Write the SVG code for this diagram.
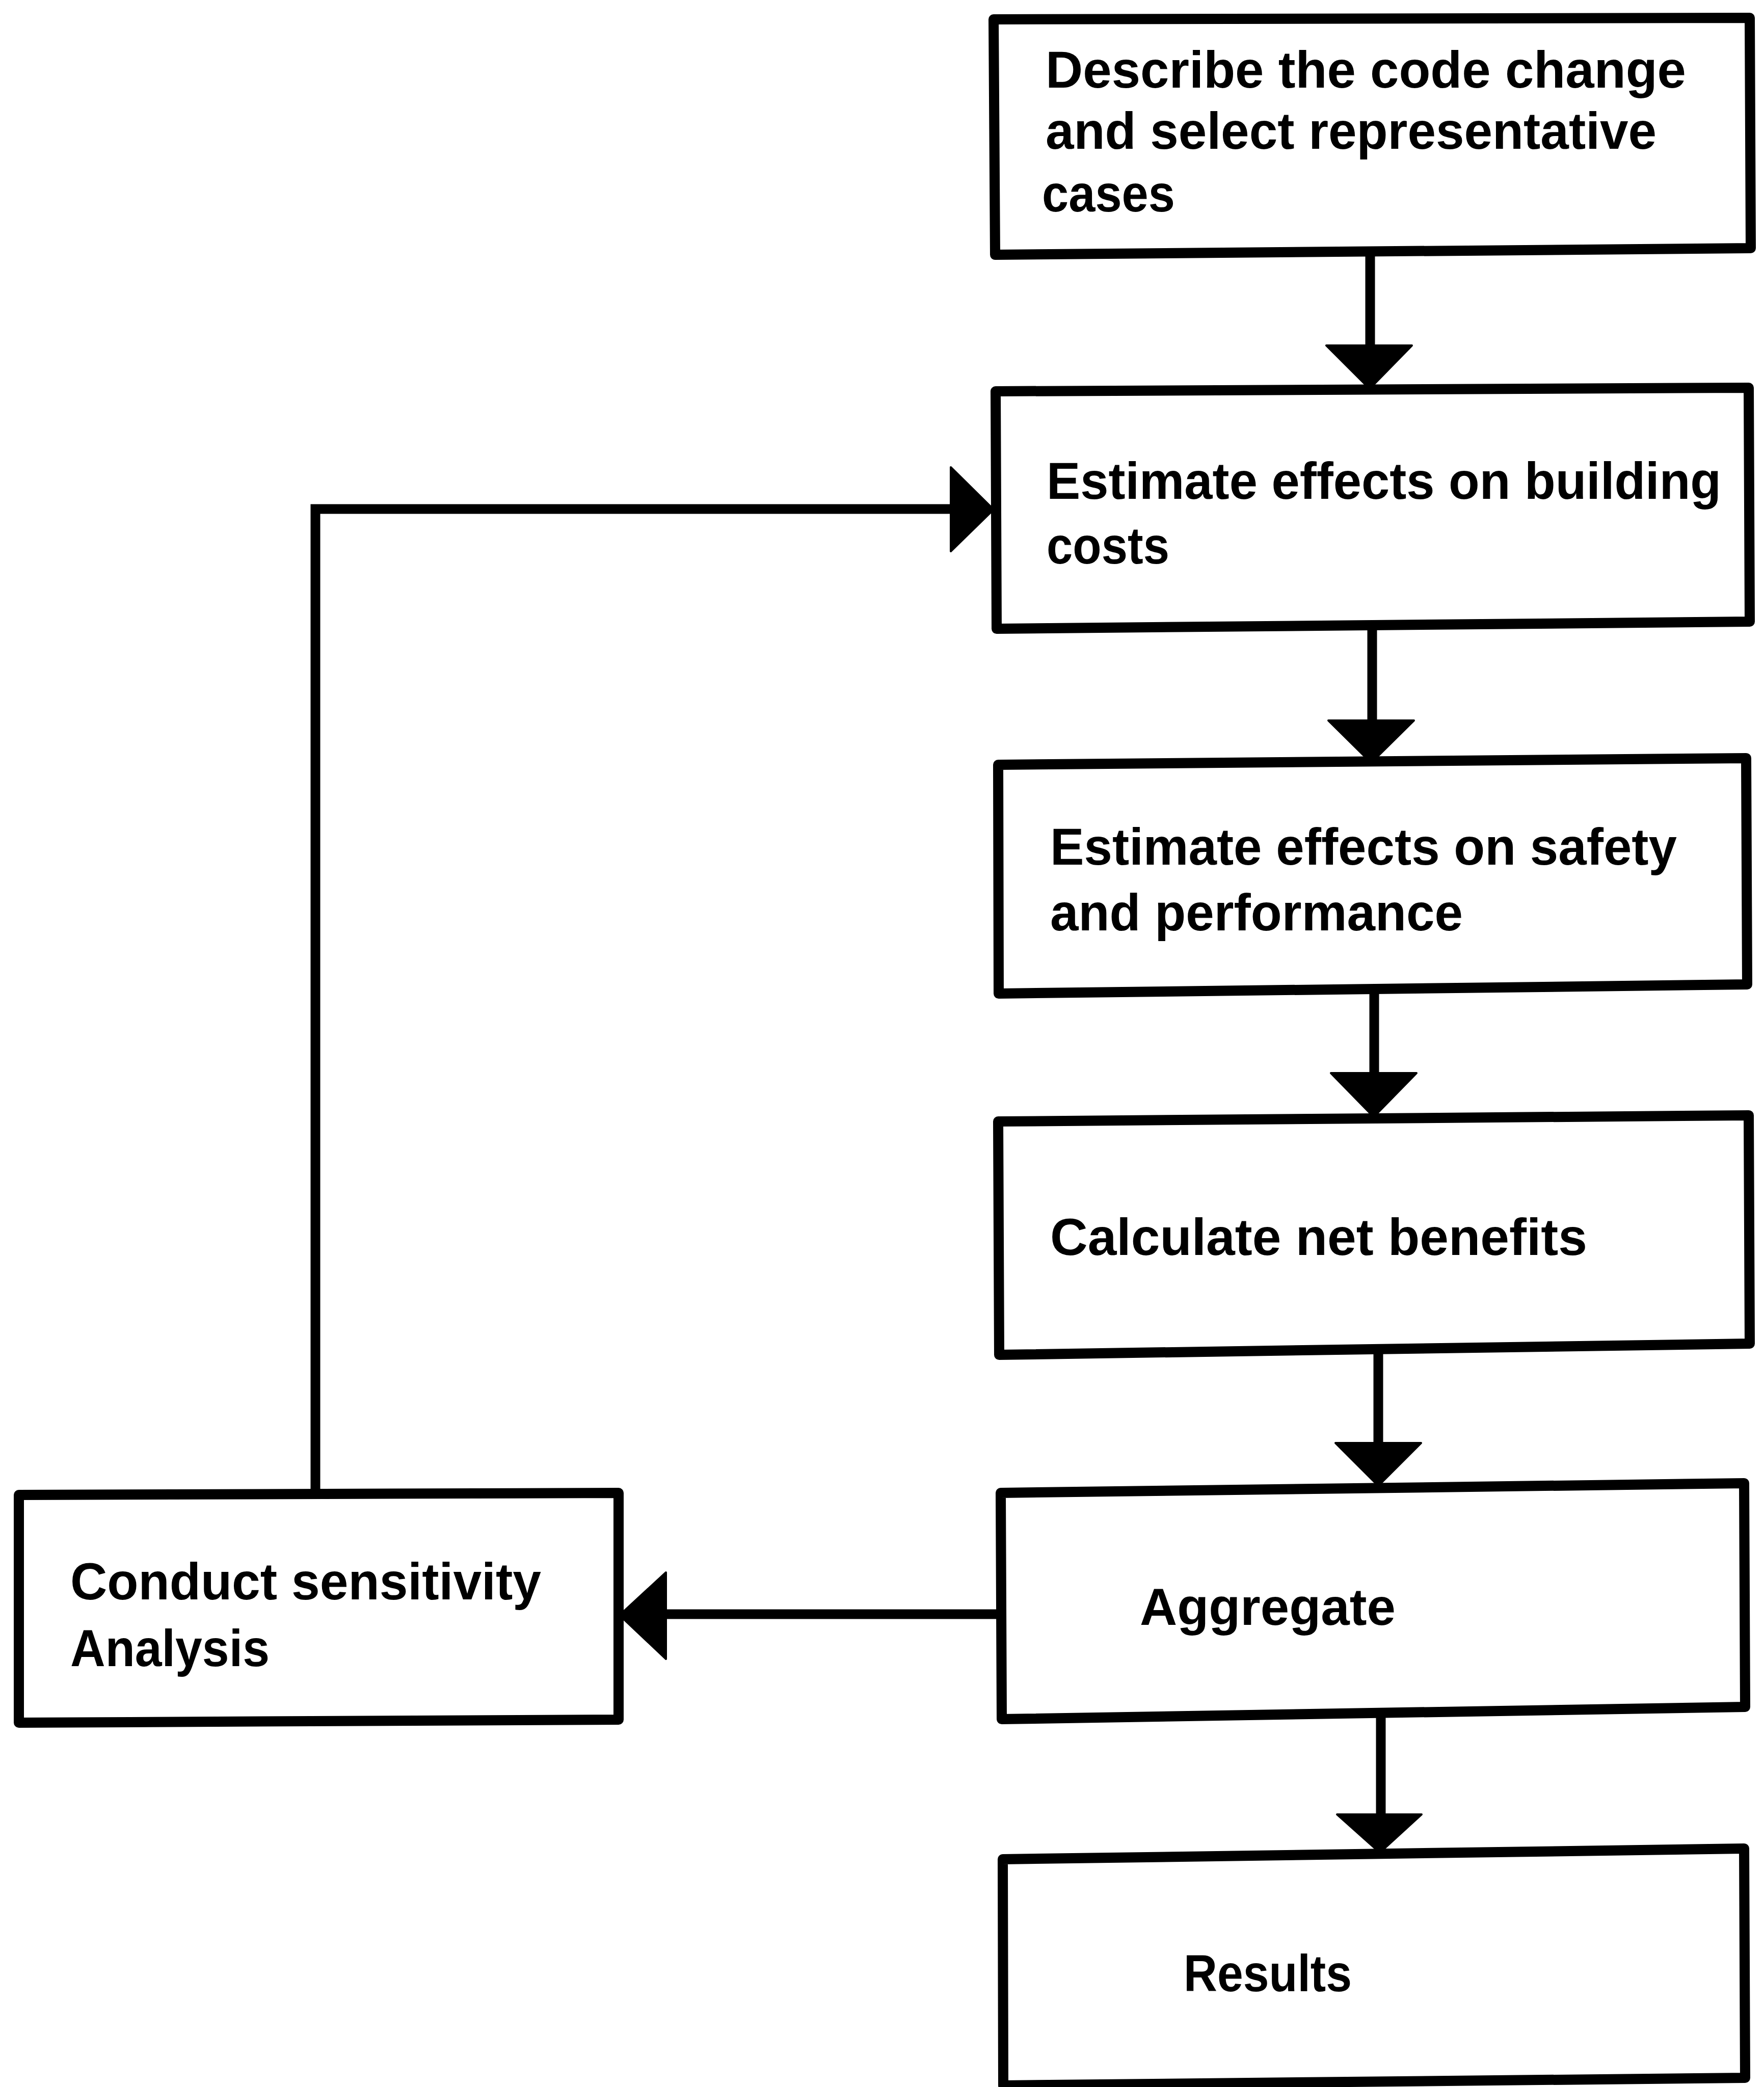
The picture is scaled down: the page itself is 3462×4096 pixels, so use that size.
<svg xmlns="http://www.w3.org/2000/svg" width="3462" height="4096" viewBox="0 0 3462 4096">
  <style>
    .box { fill: #ffffff; stroke: #000000; stroke-width: 20; stroke-linejoin: round; }
    .wire { fill: none; stroke: #000000; stroke-width: 19; stroke-linejoin: miter; stroke-linecap: butt; }
    .head { fill: #000000; stroke: #000000; stroke-width: 4; stroke-linejoin: round; }
    .label { font-family: "Liberation Sans", Arial, sans-serif; font-weight: bold; font-size: 102px; fill: #000000; }
  </style>
  <rect x="0" y="0" width="3462" height="4096" fill="#ffffff"/>

  <!-- connectors -->
  <g id="connectors">
    <!-- describe -> building costs -->
    <line class="wire" x1="2689" y1="500" x2="2689" y2="690"/>
    <polygon class="head" points="2603,678 2771,678 2688,763"/>
    <!-- building costs -> safety -->
    <line class="wire" x1="2693" y1="1230" x2="2693" y2="1425"/>
    <polygon class="head" points="2607,1414 2775,1414 2691,1497"/>
    <!-- safety -> net benefits -->
    <line class="wire" x1="2697" y1="1945" x2="2697" y2="2115"/>
    <polygon class="head" points="2612,2106 2780,2106 2696,2192"/>
    <!-- net benefits -> aggregate -->
    <line class="wire" x1="2705" y1="2655" x2="2705" y2="2842"/>
    <polygon class="head" points="2621,2832 2789,2832 2705,2916"/>
    <!-- aggregate -> results -->
    <line class="wire" x1="2710" y1="3368" x2="2710" y2="3570"/>
    <polygon class="head" points="2624,3561 2790,3561 2708,3636"/>
    <!-- aggregate -> sensitivity analysis -->
    <line class="wire" x1="1964" y1="3168" x2="1295" y2="3168"/>
    <polygon class="head" points="1307,3086 1307,3256 1216,3170"/>
    <!-- sensitivity analysis loops back to building costs -->
    <polyline class="wire" points="619,2932 619,999 1878,999"/>
    <polygon class="head" points="1866,917 1866,1082 1950,1000"/>
  </g>

  <g id="node-describe">
    <polygon class="box" points="1950,38 3434,35 3436,487 1953,500"/>
    <text class="label" x="2052" y="172" textLength="1257" lengthAdjust="spacingAndGlyphs">Describe the code change</text>
    <text class="label" x="2052" y="292" textLength="1199" lengthAdjust="spacingAndGlyphs">and select representative</text>
    <text class="label" x="2045" y="415" textLength="261" lengthAdjust="spacingAndGlyphs">cases</text>
  </g>

  <g id="node-building-costs">
    <polygon class="box" points="1954,768 3432,761 3434,1220 1956,1234"/>
    <text class="label" x="2054" y="979" textLength="1324" lengthAdjust="spacingAndGlyphs">Estimate effects on building</text>
    <text class="label" x="2054" y="1106" textLength="241" lengthAdjust="spacingAndGlyphs">costs</text>
  </g>

  <g id="node-safety">
    <polygon class="box" points="1959,1501 3427,1488 3429,1932 1960,1950"/>
    <text class="label" x="2061" y="1697" textLength="1230" lengthAdjust="spacingAndGlyphs">Estimate effects on safety</text>
    <text class="label" x="2061" y="1826" textLength="810" lengthAdjust="spacingAndGlyphs">and performance</text>
  </g>

  <g id="node-net-benefits">
    <polygon class="box" points="1959,2201 3432,2189 3434,2637 1961,2659"/>
    <text class="label" x="2061" y="2463" textLength="1054" lengthAdjust="spacingAndGlyphs">Calculate net benefits</text>
  </g>

  <g id="node-aggregate">
    <polygon class="box" points="1964,2930 3423,2911 3425,3350 1966,3374"/>
    <text class="label" x="2237" y="3189" textLength="502" lengthAdjust="spacingAndGlyphs">Aggregate</text>
  </g>

  <g id="node-results">
    <polygon class="box" points="1968,3649 3423,3628 3425,4078 1969,4093"/>
    <text class="label" x="2323" y="3908" textLength="330" lengthAdjust="spacingAndGlyphs">Results</text>
  </g>

  <g id="node-sensitivity">
    <polygon class="box" points="37,2934 1214,2930 1214,3375 37,3381"/>
    <text class="label" x="138" y="3139" textLength="924" lengthAdjust="spacingAndGlyphs">Conduct sensitivity</text>
    <text class="label" x="138" y="3270" textLength="391" lengthAdjust="spacingAndGlyphs">Analysis</text>
  </g>
</svg>
